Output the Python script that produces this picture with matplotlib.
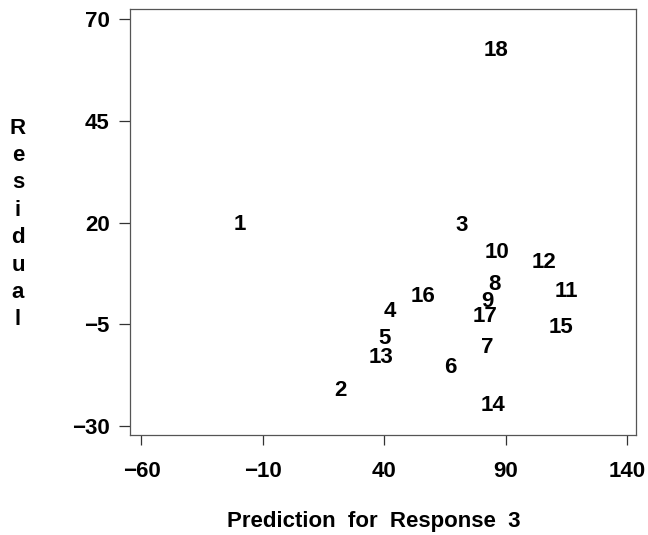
import matplotlib
matplotlib.use("Agg")
import matplotlib.pyplot as plt
import matplotlib.transforms as mtransforms

# case number, predicted value, residual
labels = ["1", "2", "3", "4", "5", "6", "7", "8", "9", "10",
          "11", "12", "13", "14", "15", "16", "17", "18"]
pred = [-19.5, 21.7, 71.8, 42.0, 39.9, 67.2, 82.3, 85.2, 82.3, 86.4,
        115.0, 105.8, 38.7, 84.8, 112.6, 55.7, 81.4, 85.9]
resid = [20.0, -20.7, 19.9, -1.3, -8.1, -15.2, -10.3, 5.4, 1.1, 13.2,
         3.6, 10.8, -12.6, -24.4, -5.3, 2.4, -2.7, 62.9]

xticks = [-60, -10, 40, 90, 140]
yticks = [-30, -5, 20, 45, 70]

plt.rcParams['font.family'] = ['Liberation Sans', 'DejaVu Sans']
plt.rcParams['font.weight'] = 'bold'
fs = 16

fig = plt.figure(figsize=(6.48, 5.35), dpi=100)
ax = fig.add_axes([130/648, 1 - 435/535, 506/648, 426/535])

# digits have no descenders, nudge labels down a touch so the glyphs sit centred
trans = mtransforms.offset_copy(ax.transData, fig=fig, y=-2, units='dots')
for lab, x, y in zip(labels, pred, resid):
    ax.text(x, y, lab, ha='center', va='center', fontsize=fs, fontweight='bold',
            transform=trans)

ax.set_xlim(-64.7, 143.5)
ax.set_ylim(-32.2, 72.5)

def fmt(v):
    return ('\u2212' + str(-v)) if v < 0 else str(v)

ax.set_xticks(xticks)
ax.set_xticklabels([fmt(v) for v in xticks], fontsize=fs, fontweight='bold')
ax.set_yticks(yticks)
ax.set_yticklabels([fmt(v) for v in yticks], fontsize=fs, fontweight='bold')
ax.tick_params(axis='y', direction='out', length=8, width=0.9, color='#333333', pad=6.5)
ax.tick_params(axis='x', direction='out', length=7.5, width=0.9, color='#333333', pad=11)

for s in ax.spines.values():
    s.set_color('#555555')
    s.set_linewidth(0.9)

fig.text(374/648, 1 - 521/535, 'Prediction  for  Response  3', ha='center', va='center',
         fontsize=fs, fontweight='bold')
fig.text(18/648, 1 - 224/535, '\n'.join('Residual'), ha='center', va='center',
         fontsize=fs, fontweight='bold', linespacing=1.4)

fig.savefig('out.png', dpi=100)
